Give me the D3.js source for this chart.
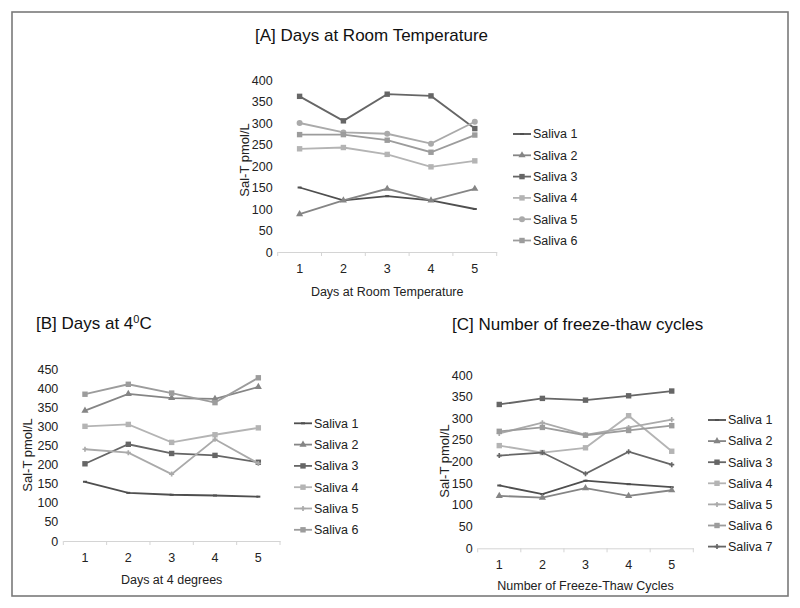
<!DOCTYPE html>
<html><head><meta charset="utf-8">
<script src="https://cdn.jsdelivr.net/npm/d3@7"></script>
<style>body{margin:0;background:#fff}svg{display:block;font-family:"Liberation Sans",Arial,sans-serif}</style>
</head><body>
<svg id="c" width="800" height="608"></svg>
<script>
const xCats = ["1","2","3","4","5"];
const seriesNamesA = ["Saliva 1","Saliva 2","Saliva 3","Saliva 4","Saliva 5","Saliva 6"];
const seriesNamesB = ["Saliva 1","Saliva 2","Saliva 3","Saliva 4","Saliva 5","Saliva 6"];
const seriesNamesC = ["Saliva 1","Saliva 2","Saliva 3","Saliva 4","Saliva 5","Saliva 6","Saliva 7"];
const ticksA = [0,50,100,150,200,250,300,350,400];
const ticksB = [0,50,100,150,200,250,300,350,400,450];
const ticksC = [0,50,100,150,200,250,300,350,400];
const valuesA = [
  [150,120,130,120,100],
  [88,120,147,120,147],
  [362,305,367,363,287],
  [240,243,227,198,212],
  [300,278,275,252,303],
  [273,273,260,232,272]
];
const valuesB = [
  [155,126,121,119,116],
  [341,385,374,372,403],
  [202,253,229,224,206],
  [300,305,258,278,296],
  [240,231,175,266,203],
  [384,410,387,362,427]
];
const valuesC = [
  [145,125,156,148,141],
  [121,117,139,121,134],
  [332,346,342,352,363],
  [237,221,232,306,224],
  [265,290,262,279,297],
  [270,279,261,272,283],
  [214,221,172,223,193]
];

const svg = d3.select("#c");
svg.append("rect").attr("x",12).attr("y",12).attr("width",776).attr("height",584)
  .attr("fill","none").attr("stroke","#7a7a7a").attr("stroke-width",1.6);

const colors = ["#4f4f4f","#858585","#666666","#b4b4b4","#aaaaaa","#9c9c9c","#666666"];
const FONT = "Liberation Sans, Arial, sans-serif";

function marker(g, kind, x, y, color){
  if(kind==="sq") g.append("rect").attr("x",x-2.7).attr("y",y-2.7).attr("width",5.4).attr("height",5.4).attr("fill",color);
  else if(kind==="tri") g.append("path").attr("d",d3.symbol(d3.symbolTriangle,22)()).attr("transform",`translate(${x},${y})`).attr("fill",color);
  else if(kind==="circ") g.append("circle").attr("cx",x).attr("cy",y).attr("r",3).attr("fill",color);
  else if(kind==="plus") g.append("path").attr("d",d3.symbol(d3.symbolCross,14)()).attr("transform",`translate(${x},${y})`).attr("fill",color);
  else if(kind==="dash") g.append("rect").attr("x",x-2).attr("y",y-1).attr("width",4).attr("height",2).attr("fill",color);
}

function panel(cfg){
  const g = svg.append("g");
  const x = d3.scaleBand().domain(xCats).range([cfg.x0,cfg.x1]);
  const y = d3.scaleLinear().domain([0,cfg.ymax]).range([cfg.yb,cfg.yt]);
  const ax = g.append("g").attr("transform",`translate(0,${cfg.yb})`)
    .call(d3.axisBottom(x).tickSize(0).tickPadding(12));
  ax.select(".domain").attr("stroke","#d4d4d4");
  ax.selectAll("text").attr("font-size",12.5).attr("fill","#222").attr("font-family",FONT);
  const bounds = xCats.map(c=>x(c)).concat([cfg.x1]);
  g.selectAll(null).data(bounds).enter().append("line")
    .attr("x1",d=>d).attr("x2",d=>d).attr("y1",cfg.yb).attr("y2",cfg.yb+4).attr("stroke","#d4d4d4");
  const ay = g.append("g").attr("transform",`translate(${cfg.x0},0)`)
    .call(d3.axisLeft(y).tickValues(cfg.ticks).tickSize(0).tickPadding(5));
  ay.select(".domain").remove();
  ay.selectAll("text").attr("font-size",12.5).attr("fill","#222").attr("font-family",FONT);
  const line = d3.line().x((d,i)=>x(xCats[i])+x.bandwidth()/2).y(d=>y(d));
  cfg.values.forEach((vals,si)=>{
    const col = colors[si];
    g.append("path").attr("d",line(vals)).attr("fill","none").attr("stroke",col).attr("stroke-width",1.8);
    vals.forEach((v,i)=>marker(g,cfg.markers[si],x(xCats[i])+x.bandwidth()/2,y(v),col));
    const ly = cfg.ly0 + si*cfg.lstep;
    g.append("line").attr("x1",cfg.lx).attr("x2",cfg.lx+18).attr("y1",ly).attr("y2",ly).attr("stroke",col).attr("stroke-width",1.8);
    marker(g,cfg.markers[si],cfg.lx+9,ly,col);
    g.append("text").attr("x",cfg.lx+20).attr("y",ly).attr("dy","0.35em").attr("font-size",12.5).attr("fill","#222").text(cfg.names[si]);
  });
  g.append("text").attr("transform",`translate(${cfg.ytx},${cfg.ytc}) rotate(-90)`)
    .attr("text-anchor","middle").attr("font-size",13).attr("fill","#222").text("Sal-T pmol/L");
  g.append("text").attr("x",(cfg.x0+cfg.x1)/2).attr("y",cfg.xty).attr("text-anchor","middle")
    .attr("font-size",12.5).attr("fill","#222").text(cfg.xtitle);
  const t = g.append("text").attr("x",cfg.tx).attr("y",cfg.ty).attr("font-size",17).attr("fill","#111");
  t.text(cfg.title);
  if(cfg.titleSup){
    t.append("tspan").attr("font-size",11).attr("dy",-6).text(cfg.titleSup);
    t.append("tspan").attr("dy",6).text(cfg.titleEnd);
  }
}

panel({x0:277.7,x1:496.7,yb:252,yt:80,ymax:400,ticks:ticksA,values:valuesA,names:seriesNamesA,
  markers:["dash","tri","sq","sq","circ","sq"],lx:513,ly0:134,lstep:21.3,ytx:249,ytc:160,xty:296,
  xtitle:"Days at Room Temperature",title:"[A] Days at Room Temperature",tx:255,ty:41});
panel({x0:63.3,x1:280,yb:541,yt:369,ymax:450,ticks:ticksB,values:valuesB,names:seriesNamesB,
  markers:["dash","tri","sq","sq","plus","sq"],lx:294,ly0:423.3,lstep:21.3,ytx:32,ytc:455,xty:584,
  xtitle:"Days at 4 degrees",title:"[B] Days at 4",titleSup:"0",titleEnd:"C",tx:36,ty:329});
panel({x0:477.7,x1:693.3,yb:548.3,yt:375,ymax:400,ticks:ticksC,values:valuesC,names:seriesNamesC,
  markers:["dash","tri","sq","sq","plus","sq","plus"],lx:708,ly0:420,lstep:21.1,ytx:449,ytc:461,xty:590,
  xtitle:"Number of Freeze-Thaw Cycles",title:"[C] Number of freeze-thaw cycles",tx:452,ty:330});
</script>
</body></html>
